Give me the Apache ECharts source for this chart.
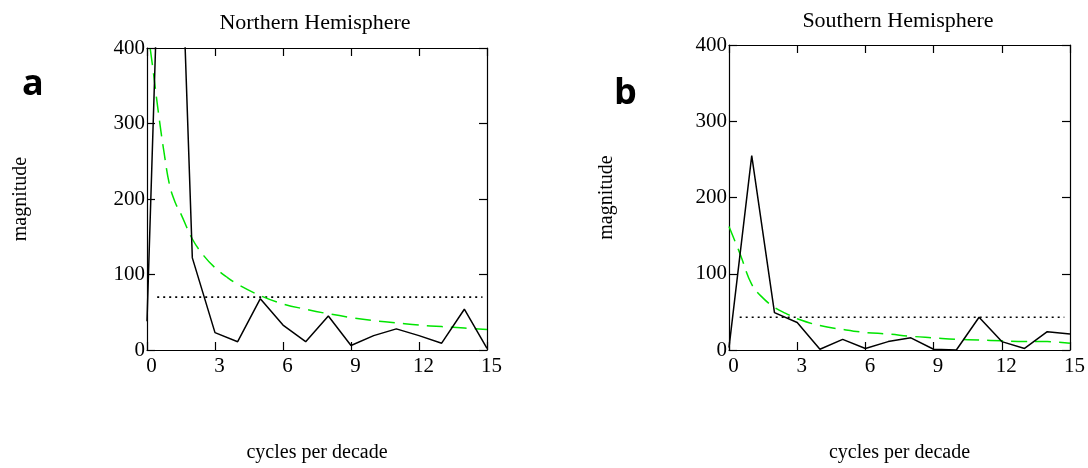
<!DOCTYPE html>
<html>
<head>
<meta charset="utf-8">
<title>Spectra</title>
<script src="https://cdn.jsdelivr.net/npm/echarts@6/dist/echarts.min.js"></script>
<style>
  html, body { margin: 0; padding: 0; background: #fff; }
  #chart { width: 1088px; height: 468px; }
</style>
</head>
<body>
<div id="chart"></div>
<script>
// cycles per decade (harmonic index)
const freqs = [0, 1, 2, 3, 4, 5, 6, 7, 8, 9, 10, 11, 12, 13, 14, 15];
// spectrum magnitude (north peak at 1 goes off the top)
const northMag = [38, 1000, 122, 23, 11, 68, 33, 11, 45, 6, 19, 28, 19, 9, 54, 2];
const southMag = [3, 255, 49, 36, 1, 14, 2, 11, 16, 1, 0, 43, 11, 2, 24, 21];

// green dashed fitted curves
const northFitX = [0, 0.25, 0.5, 0.75, 1, 1.25, 1.5, 2, 2.5, 3, 3.5, 4, 5, 6, 7, 8, 9, 10, 11, 12, 13, 14, 15];
const northFit = [430, 375, 315, 262, 218, 195, 180, 147, 125, 109, 97, 87, 72, 61, 54, 48, 43, 39, 36, 33, 31, 29, 27];
const southFitX = [0, 0.5, 1, 1.5, 2, 2.5, 3, 4, 5, 6, 7, 8, 9, 10, 11, 12, 13, 14, 15];
const southFit = [162, 125, 86, 68, 56, 48, 41, 32, 27, 23, 21, 18, 16, 14, 13, 12, 11, 11, 9];

// dotted significance levels and their extent
const northLevel = 70;
const southLevel = 43;
const northLevelX = [0.45, 14.8];
const southLevelX = [0.47, 14.75];

const xTicks = [0, 3, 6, 9, 12, 15];
const yTicks = [0, 100, 200, 300, 400];

const titles = ['Northern Hemisphere', 'Southern Hemisphere'];
const panelTags = ['a', 'b'];

const serif = '"Liberation Serif", "DejaVu Serif", serif';
const ink = '#000';

const grids = [
  { left: 147, top: 48, width: 340, height: 305 },
  { left: 729, top: 45, width: 344, height: 308 }
];

function xAxisFor(gridIndex, top) {
  return {
    type: 'value',
    gridIndex: gridIndex,
    position: top ? 'top' : 'bottom',
    min: xTicks[0],
    max: xTicks[xTicks.length - 1],
    interval: xTicks[1] - xTicks[0],
    name: top ? '' : 'cycles per decade',
    nameLocation: 'middle',
    nameGap: 93,
    nameTextStyle: { fontFamily: serif, fontSize: 20, color: ink },
    axisLine: { show: true, onZero: false, lineStyle: { color: ink, width: 1.2 } },
    axisTick: { show: true, inside: true, length: 8, lineStyle: { color: ink, width: 1.2 } },
    axisLabel: {
      show: !top,
      fontFamily: serif,
      fontSize: 21,
      color: ink,
      margin: 6,
      padding: [0, 0, 0, 9]
    },
    splitLine: { show: false }
  };
}

function yAxisFor(gridIndex, right, gap) {
  return {
    type: 'value',
    gridIndex: gridIndex,
    position: right ? 'right' : 'left',
    min: yTicks[0],
    max: yTicks[yTicks.length - 1],
    interval: yTicks[1] - yTicks[0],
    name: right ? '' : 'magnitude',
    nameLocation: 'middle',
    nameGap: gap,
    nameTextStyle: { fontFamily: serif, fontSize: 20, color: ink },
    axisLine: { show: true, onZero: false, lineStyle: { color: ink, width: 1.2 } },
    axisTick: { show: true, inside: true, length: 8, lineStyle: { color: ink, width: 1.2 } },
    axisLabel: {
      show: !right,
      fontFamily: serif,
      fontSize: 21,
      color: ink,
      margin: 2,
      padding: [4, 0, 0, 0]
    },
    splitLine: { show: false }
  };
}

function pairs(xs, ys) {
  return xs.map((x, i) => [x, ys[i]]);
}

function panelSeries(idx, mag, fitX, fit, level, levelX) {
  return [
    {
      type: 'line',
      xAxisIndex: idx * 2,
      yAxisIndex: idx * 2,
      data: pairs(fitX, fit),
      smooth: 0.4,
      symbol: 'none',
      lineStyle: { color: '#00e400', width: 1.5, type: [16, 8] },
      z: 3
    },
    {
      type: 'line',
      xAxisIndex: idx * 2,
      yAxisIndex: idx * 2,
      data: levelX.map(x => [x, level]),
      symbol: 'none',
      lineStyle: { color: ink, width: 1.6, type: [2, 4] },
      z: 2
    },
    {
      type: 'line',
      xAxisIndex: idx * 2,
      yAxisIndex: idx * 2,
      data: pairs(freqs, mag),
      symbol: 'none',
      lineStyle: { color: '#000', width: 1.5 },
      z: 4
    }
  ];
}

const chart = echarts.init(document.getElementById('chart'), null, { renderer: 'canvas' });

const option = {
  backgroundColor: '#fff',
  animation: false,
  title: [
    {
      text: titles[0], left: 315, top: 12, textAlign: 'center', padding: 0,
      textStyle: { fontFamily: serif, fontSize: 22, fontWeight: 'normal', color: ink }
    },
    {
      text: titles[1], left: 898, top: 10, textAlign: 'center', padding: 0,
      textStyle: { fontFamily: serif, fontSize: 22, fontWeight: 'normal', color: ink }
    }
  ],
  graphic: [
    {
      type: 'text', left: 22, top: 67,
      style: { text: panelTags[0], font: 'bold 36px "Open Sans", sans-serif', fill: '#000' }
    },
    {
      type: 'text', left: 614, top: 76,
      style: { text: panelTags[1], font: 'bold 36px "Open Sans", sans-serif', fill: '#000' }
    }
  ],
  grid: grids.map(g => Object.assign({ containLabel: false }, g)),
  xAxis: [xAxisFor(0, false), xAxisFor(0, true), xAxisFor(1, false), xAxisFor(1, true)],
  yAxis: [yAxisFor(0, false, 116), yAxisFor(0, true, 0), yAxisFor(1, false, 112), yAxisFor(1, true, 0)],
  series: [
    ...panelSeries(0, northMag, northFitX, northFit, northLevel, northLevelX),
    ...panelSeries(1, southMag, southFitX, southFit, southLevel, southLevelX)
  ]
};

chart.setOption(option);
</script>
</body>
</html>
